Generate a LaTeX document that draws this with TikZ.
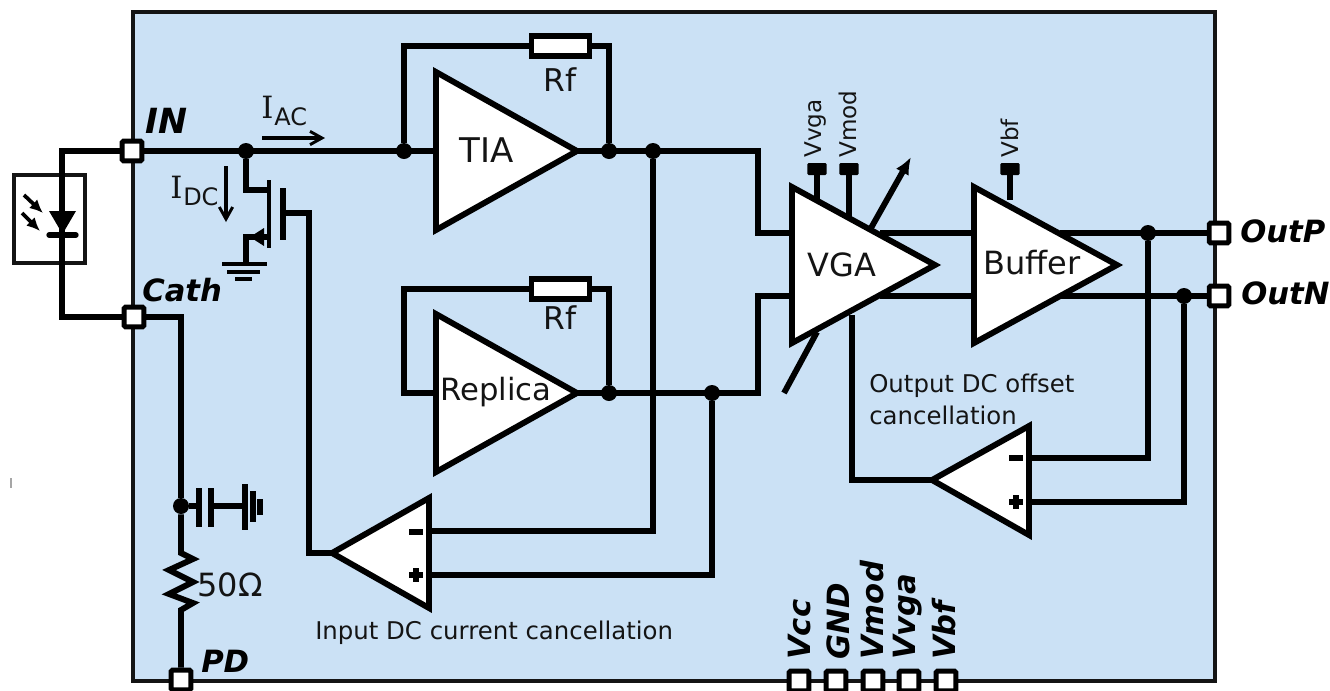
\documentclass[tikz,border=0pt]{standalone}
\usepackage{fontspec}
\setmainfont{DejaVu Sans}
\newfontfamily\serifI{DejaVu Serif}
\usetikzlibrary{arrows.meta}
\definecolor{chipblue}{HTML}{CBE1F5}
\definecolor{inkdark}{HTML}{141414}
\tikzset{
  x=0.75pt,y=-0.75pt,
  wire/.style={line width=4.4pt,draw=black,line join=miter},
  amp/.style={line width=4.4pt,draw=black,fill=white,line join=miter},
  port/.style={draw=black,fill=white,line width=3.6pt,minimum size=14.8pt,inner sep=0pt,rounded corners=1pt},
  pad/.style={fill=black,minimum width=14.5pt,minimum height=9pt,inner sep=0pt,rounded corners=1pt},
  dot/.style={circle,fill=black,minimum size=12pt,inner sep=0pt},
  res/.style={draw=black,fill=white,line width=3.8pt,minimum width=43pt,minimum height=15pt,inner sep=0pt},
  pinlabel/.style={font=\fontsize{23}{27}\selectfont\bfseries\itshape,inner sep=0pt,text=black},
  pinrot/.style={pinlabel,rotate=90,anchor=west},
  ampfont/.style={font=\fontsize{24}{28}\selectfont,inner sep=0pt,text=inkdark},
  txt/.style={font=\fontsize{18.3}{22}\selectfont,inner sep=0pt,text=inkdark},
  smalltxt/.style={font=\fontsize{17.3}{20}\selectfont,inner sep=0pt,text=inkdark,rotate=90},
  thinarrow/.style={line width=2.6pt,-{Straight Barb[length=9pt,width=10pt,line width=2.2pt]}},
}
\begin{document}
\begin{tikzpicture}
\useasboundingbox (0,0) rectangle (1330,690);
% chip body
\filldraw[fill=chipblue,draw=inkdark,line width=2.6pt] (133,12) rectangle (1215,681);
\draw[line width=1pt,draw=black!35] (11,478) -- (11,488);

% photodiode package
\draw[line width=2.6pt,draw=inkdark] (14,175) rectangle (85,263);

% coordinates
\coordinate (bendIn) at (62,151);
\coordinate (bendCath) at (62,317);
\coordinate (bendCathR) at (181,317);
\coordinate (dA) at (49,211); \coordinate (dB) at (76,211); \coordinate (dC) at (62.5,234);
\coordinate (tiaT) at (436,72); \coordinate (tiaB) at (436,230); \coordinate (tiaO) at (577,151); \coordinate (tiaI) at (436,151);
\coordinate (repT) at (436,314); \coordinate (repB) at (436,472); \coordinate (repO) at (577,393); \coordinate (repI) at (436,393);
\coordinate (vgaT) at (792,187); \coordinate (vgaB) at (792,343); \coordinate (vgaO) at (935,265);
\coordinate (vgaIP) at (792,233); \coordinate (vgaIN) at (792,296);
\coordinate (vgaOP) at (880,233); \coordinate (vgaON) at (880,296);
\coordinate (bufT) at (974,187); \coordinate (bufB) at (974,343); \coordinate (bufO) at (1117,265);
\coordinate (bufIP) at (974,233); \coordinate (bufIN) at (974,296);
\coordinate (bufOP) at (1060,233); \coordinate (bufON) at (1060,296);
\coordinate (icT) at (429,498); \coordinate (icB) at (429,608); \coordinate (icO) at (332,553);
\coordinate (icM) at (429,531); \coordinate (icP) at (429,575);
\coordinate (ocT) at (1029,426); \coordinate (ocB) at (1029,535); \coordinate (ocO) at (932,480);
\coordinate (ocM) at (1029,458); \coordinate (ocP) at (1029,502);

% wires
\node[dot] (jIn) at (246,151) {};
\node[dot] (jTiaIn) at (404,151) {};
\node[dot] (jTiaOut) at (609,151) {};
\node[dot] (jTiaFb) at (653,151) {};
\node[dot] (jRepOut) at (609,393) {};
\node[dot] (jRepFb) at (712,393) {};
\node[dot] (jOutP) at (1148,233) {};
\node[dot] (jOutN) at (1184,296) {};
\node[dot] (jCap) at (181,506) {};
\node[res] (rfA) at (560.5,46) {};
\node[res] (rfB) at (560.5,289) {};
\node[port] (in) at (132,151) {};
\node[port] (cath) at (134,317) {};
\node[port] (pd) at (181,680) {};
\node[port] (outp) at (1219,233) {};
\node[port] (outn) at (1219,296) {};
\node[port] (vcc) at (799,681) {};
\node[port] (gnd) at (836,681) {};
\node[port] (vmodp) at (873,681) {};
\node[port] (vvgap) at (909,681) {};
\node[port] (vbfp) at (946,681) {};
\node[pad] (padA) at (817,169) {};
\node[pad] (padB) at (849,169) {};
\node[pad] (padC) at (1010,169) {};

\draw[wire] (in.west) -- (bendIn) -- (bendCath) -- (cath.west);
\draw[wire] (in.east) -- (tiaI);
\draw[wire] (jTiaIn) |- (rfA.west);
\draw[wire] (rfA.east) -| (jTiaOut);
\draw[wire] (tiaO) -- (758,151) -- (758,233) -- (vgaIP);
\draw[wire] (repO) -- (758,393) -- (758,296) -- (vgaIN);
\draw[wire] (repI) -- (404,393) |- (rfB.west);
\draw[wire] (rfB.east) -| (jRepOut);
\draw[wire] (jTiaFb) |- (icM);
\draw[wire] (jRepFb) |- (icP);
\draw[wire] (icO) -- (309,553) -- (309,213) -- (284,213);
\draw[wire] (vgaOP) -- (bufIP);
\draw[wire] (vgaON) -- (bufIN);
\draw[wire] (bufOP) -- (outp.west);
\draw[wire] (bufON) -- (outn.west);
\draw[wire] (jOutP) |- (ocM);
\draw[wire] (jOutN) |- (ocP);
\draw[wire] (852,315) |- (ocO);
\draw[wire] (padA) -- (817,208);
\draw[wire] (padB) -- (849,222);
\draw[wire] (padC) -- (1010,200);
\draw[wire] (cath.east) -- (bendCathR) -- (jCap);
\draw[wire] (jCap) -- (181,553) -- (193,559) -- (169,570) -- (193,582) -- (169,594) -- (193,603) -- (181,610) -- (pd.north);

% MOSFET
\draw[wire] (jIn) -- (246,190) -- (269,190);
\draw[wire,line width=3.6pt] (269,180) -- (269,248);
\draw[wire,line width=4.8pt] (283,188) -- (283,240);
\draw[wire] (268,237) -- (246,237) -- (246,264);
\fill (250,237) -- (264,228) -- (264,246) -- cycle;
\draw[line width=3pt] (222,264) -- (267,264);
\draw[line width=3pt] (227,272) -- (260,272);
\draw[line width=3pt] (235,279) -- (252,279);

% decoupling capacitor and ground
\draw[wire] (jCap) -- (199,506);
\draw[wire] (199,488) -- (199,527);
\draw[wire] (211,488) -- (211,527);
\draw[wire] (211,506) -- (245,506);
\draw[wire] (245,484) -- (245,530);
\draw[wire] (253,491) -- (253,522);
\draw[wire] (260,499) -- (260,515);

% photodiode symbol
\fill (dA) -- (dB) -- (dC) -- cycle;
\draw[line width=4pt,line cap=round] (49,235) -- (76,235);
\draw[line width=2.8pt,-{Latex[length=10pt,width=9pt]}] (24,195) -- (43,213);
\draw[line width=2.8pt,-{Latex[length=10pt,width=9pt]}] (22,213) -- (40,231);

% amplifier triangles
\draw[amp] (tiaT) -- (tiaO) -- (tiaB) -- cycle;
\draw[amp] (repT) -- (repO) -- (repB) -- cycle;
\draw[wire,-{Latex[length=13pt,width=11pt]}] (871,228) -- (911,157);
\draw[wire] (784,393) -- (817,332);
\draw[amp] (vgaT) -- (vgaO) -- (vgaB) -- cycle;
\draw[amp] (bufT) -- (bufO) -- (bufB) -- cycle;
\draw[amp] (icT) -- (icO) -- (icB) -- cycle;
\draw[amp] (ocT) -- (ocO) -- (ocB) -- cycle;

% op-amp signs
\draw[line width=4pt] (409,532) -- (423,532);
\draw[line width=4pt] (409,575) -- (423,575) (416,568) -- (416,582);
\draw[line width=4pt] (1009,458) -- (1023,458);
\draw[line width=4pt] (1009,502) -- (1023,502) (1016,495) -- (1016,509);

% current arrows
\draw[thinarrow] (262,138) -- (325,138);
\draw[thinarrow] (226,166) -- (226,222);

% texts
\node[ampfont,anchor=center,font=\fontsize{25.5}{28}\selectfont] (tTia) at (487,150) {TIA};
\node[ampfont,anchor=center,font=\fontsize{23}{28}\selectfont] (tRep) at (496,392) {Replica};
\node[ampfont,anchor=center] (tVga) at (842,265) {VGA};
\node[ampfont,anchor=center] (tBuf) at (1032,263) {Buffer};
\node[txt,font=\fontsize{23.5}{26}\selectfont] (tRfA) at (560,80) {Rf};
\node[txt,font=\fontsize{23.5}{26}\selectfont] (tRfB) at (560,318) {Rf};
\node[txt,anchor=base west,font=\serifI\fontsize{23}{26}\selectfont] (tIac) at (261,118) {I};
\node[txt,anchor=base west,font=\fontsize{18}{20}\selectfont] (tIacS) at (274,125) {AC};
\node[txt,anchor=base west,font=\serifI\fontsize{23}{26}\selectfont] (tIdc) at (170,198) {I};
\node[txt,anchor=base west,font=\fontsize{18}{20}\selectfont] (tIdcS) at (183,205) {DC};
\node[txt,anchor=center,font=\fontsize{24}{28}\selectfont] (t50) at (230,585) {50Ω};
\node[txt,anchor=west] (tInc) at (315,633) {Input DC current cancellation};
\node[txt,anchor=west] (tOc1) at (869,386) {Output DC offset};
\node[txt,anchor=west] (tOc2) at (869,415) {cancellation};
\node[smalltxt,anchor=west] (tVvga) at (815,158) {Vvga};
\node[smalltxt,anchor=west] (tVmod) at (848,158) {Vmod};
\node[smalltxt,anchor=west] (tVbf) at (1010,158) {Vbf};
\node[pinlabel,anchor=west,font=\fontsize{26}{30}\selectfont\bfseries\itshape] (lIn) at (145,121) {IN};
\node[pinlabel,anchor=west] (lCath) at (142,290) {Cath};
\node[pinlabel,anchor=west] (lPd) at (201,661) {PD};
\node[pinlabel,anchor=west] (lOutP) at (1240,231) {OutP};
\node[pinlabel,anchor=west] (lOutN) at (1241,293) {OutN};
\node[pinrot] (lVcc) at (800,660) {Vcc};
\node[pinrot] (lGnd) at (838,660) {GND};
\node[pinrot] (lVmod) at (872,660) {Vmod};
\node[pinrot] (lVvga) at (908,660) {Vvga};
\node[pinrot] (lVbf) at (944,660) {Vbf};
\end{tikzpicture}
\end{document}
